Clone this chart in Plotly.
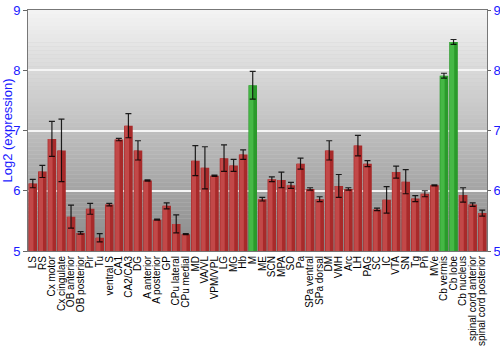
import plotly.graph_objects as go

categories = ["LS", "RS", "Cx motor", "Cx cingulate", "OB anterior", "OB posterior", "Pir", "Tu",
              "ventral S", "CA1", "CA2/CA3", "DG", "A anterior", "A posterior", "GP", "CPu lateral",
              "CPu medial", "MD", "VA/VL", "VPM/VPL", "LG", "MG", "Hb", "M", "ME", "SCN", "MPA", "SO",
              "Pa", "SPa ventral", "SPa dorsal", "DM", "VMH", "Arc", "LH", "PAG", "SC", "IC", "VTA",
              "SN", "Tg", "Pn", "MVe", "Cb vermis", "Cb lobe", "Cb nucleus", "spinal cord anterior",
              "spinal cord posterior"]
values = [6.12, 6.32, 6.86, 6.67, 5.57, 5.30, 5.70, 5.22,
          5.77, 6.85, 7.08, 6.67, 6.17, 5.52, 5.75, 5.45,
          5.28, 6.50, 6.38, 6.25, 6.54, 6.42, 6.60, 7.75, 5.86, 6.19, 6.18, 6.09,
          6.45, 6.03, 5.86, 6.67, 6.08, 6.03, 6.75, 6.45, 5.69, 5.85, 6.31,
          6.15, 5.87, 5.95, 6.09, 7.91, 8.47, 5.93, 5.77, 5.63]
errors = [0.07, 0.10, 0.29, 0.52, 0.19, 0.02, 0.09, 0.07,
          0.02, 0.02, 0.20, 0.16, 0.01, 0.01, 0.05, 0.15,
          0.01, 0.25, 0.35, 0.01, 0.22, 0.10, 0.08, 0.23, 0.03, 0.04, 0.13, 0.05,
          0.09, 0.02, 0.04, 0.16, 0.19, 0.02, 0.17, 0.05, 0.02, 0.22, 0.10,
          0.20, 0.05, 0.05, 0.01, 0.04, 0.04, 0.12, 0.03, 0.05]
highlighted = ["M", "Cb vermis", "Cb lobe"]

y_range = [5, 9]
y_ticks = [5, 6, 7, 8, 9]

base_colors = ["#2b9a2b" if c in highlighted else "#a82a2a" for c in categories]
light_colors = ["#45b845" if c in highlighted else "#c24848" for c in categories]

fig = go.Figure()
fig.add_trace(go.Bar(x=categories, y=values, marker=dict(color=base_colors, line=dict(width=0)),
                     width=0.9, offset=-0.45, base=0, hoverinfo="skip", showlegend=False))
fig.add_trace(go.Bar(x=categories, y=values, marker=dict(color=light_colors, line=dict(width=0)),
                     width=0.45, offset=-0.38, base=0, showlegend=False, hoverinfo="skip"))
fig.add_trace(go.Bar(x=categories, y=values, marker=dict(color="rgba(0,0,0,0)", line=dict(width=0)),
                     width=0.9, offset=-0.45, showlegend=False,
                     error_y=dict(type="data", array=errors, visible=True, color="rgba(0,0,0,0.85)",
                                  thickness=1.2, width=3)))

# background gradient (vertical)
n = 60
top = (243, 243, 243)
bot = (138, 138, 138)
shapes = []
for i in range(n):
    t = i / (n - 1)
    c = tuple(int(round(top[k] + (bot[k] - top[k]) * t)) for k in range(3))
    y1 = y_range[1] - (y_range[1] - y_range[0]) * i / n
    y0 = y_range[1] - (y_range[1] - y_range[0]) * (i + 1) / n
    shapes.append(dict(type="rect", xref="paper", yref="y", x0=0, x1=1, y0=y0, y1=y1,
                       fillcolor="rgb(%d,%d,%d)" % c, line=dict(width=0), layer="below"))

blue = "#1a1aff"
fig.update_layout(
    width=500, height=350,
    margin=dict(l=28, r=13, t=10, b=99),
    paper_bgcolor="white", plot_bgcolor="#cccccc",
    barmode="overlay", shapes=shapes,
    font=dict(family="Liberation Sans, Arial, sans-serif", size=11, color="black"),
    xaxis=dict(tickangle=-90, tickfont=dict(size=10, color="black"), showline=True, mirror=True,
               tickmode="array", tickvals=categories, ticktext=categories,
               linecolor="#777777", linewidth=1, ticks="", range=[-0.5, len(categories) - 0.5],
               automargin=False, showgrid=False),
    yaxis=dict(range=y_range, tickvals=y_ticks, tickfont=dict(size=13, color=blue),
               gridcolor="#f5f5f5", gridwidth=1.5, showline=True, linecolor="#777777", linewidth=1,
               ticks="outside", ticklen=4, tickcolor="#666666", zeroline=False, automargin=False,
               title=dict(text="Log2 (expression)", font=dict(size=13, color=blue), standoff=4)),
    yaxis2=dict(range=y_range, tickvals=y_ticks, tickfont=dict(size=13, color=blue), overlaying="y",
                side="right", showgrid=False, showline=True, linecolor="#777777", linewidth=1,
                ticks="outside", ticklen=3, tickcolor="#666666", zeroline=False, automargin=False,
                matches="y"),
)
fig.add_trace(go.Scatter(x=[categories[0]], y=[None], yaxis="y2", showlegend=False, hoverinfo="skip"))
fig.write_html("out.html")
